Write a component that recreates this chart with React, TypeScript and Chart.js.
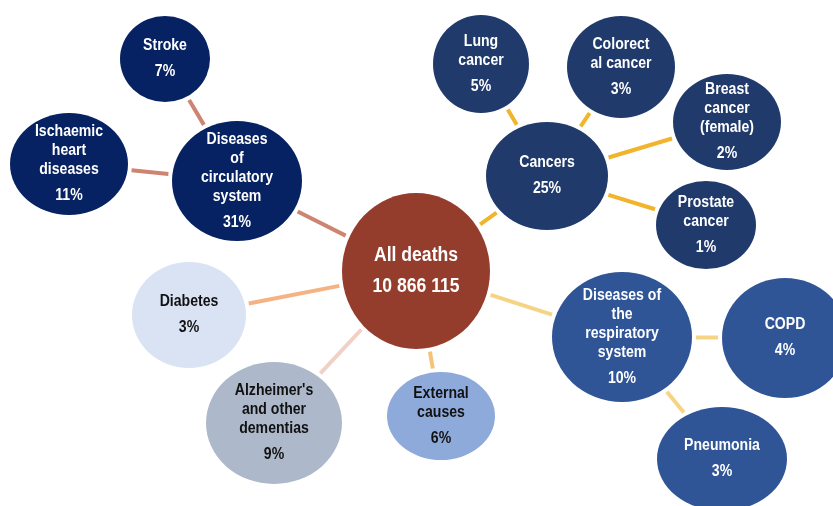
import React, { useEffect, useRef } from "react";
import Chart from "chart.js/auto";

// ---- data ----
const nodeNames = [
  "All deaths",
  "Diseases of circulatory system",
  "Stroke",
  "Ischaemic heart diseases",
  "Cancers",
  "Lung cancer",
  "Colorectal cancer",
  "Breast cancer (female)",
  "Prostate cancer",
  "Diseases of the respiratory system",
  "COPD",
  "Pneumonia",
  "External causes",
  "Alzheimer's and other dementias",
  "Diabetes",
];
const nodeLines: string[][] = [
  ["All deaths"],
  ["Diseases", "of", "circulatory", "system"],
  ["Stroke"],
  ["Ischaemic", "heart", "diseases"],
  ["Cancers"],
  ["Lung", "cancer"],
  ["Colorect", "al cancer"],
  ["Breast", "cancer", "(female)"],
  ["Prostate", "cancer"],
  ["Diseases of", "the", "respiratory", "system"],
  ["COPD"],
  ["Pneumonia"],
  ["External", "causes"],
  ["Alzheimer's", "and other", "dementias"],
  ["Diabetes"],
];
const totalDeaths = 10866115;
const sharePct = [100, 31, 7, 11, 25, 5, 3, 2, 1, 10, 4, 3, 6, 9, 3];

// layout of the diagram (scale units)
const nodeX = [416, 237, 165, 69, 547, 481, 621, 727, 706, 622, 785, 722, 441, 274, 189];
const nodeY = [271, 181, 59, 164, 176, 64, 67, 122, 225, 337, 338, 459, 416, 423, 315];
const nodeRx = [74, 65, 45, 59, 61, 48, 54, 54, 50, 70, 63, 65, 54, 68, 57];
const nodeRy = [78, 60, 43, 51, 54, 49, 51, 48, 44, 65, 60, 52, 44, 61, 53];

// connections: [parent, child]
const edges: [number, number][] = [
  [0, 1], [1, 2], [1, 3],
  [0, 4], [4, 5], [4, 6], [4, 7], [4, 8],
  [0, 9], [9, 10], [9, 11],
  [0, 12], [0, 13], [0, 14],
];

// ---- styles ----
const nodeColors = [
  "#943d2c",
  "#062262", "#062262", "#062262",
  "#1f3a6b", "#1f3a6b", "#1f3a6b", "#1f3a6b", "#1f3a6b",
  "#2f5597", "#2f5597", "#2f5597",
  "#8eaadb", "#adb9ca", "#dae3f3",
];
const textColors = [
  "#ffffff", "#ffffff", "#ffffff", "#ffffff", "#ffffff", "#ffffff", "#ffffff", "#ffffff",
  "#ffffff", "#ffffff", "#ffffff", "#ffffff", "#111111", "#111111", "#111111",
];
const edgeColors = [
  "#cd8571", "#cd8571", "#cd8571",
  "#f1b42a", "#f1b42a", "#f1b42a", "#f1b42a", "#f1b42a",
  "#f6d486", "#f6d486", "#f6d486",
  "#f2c676", "#f1d0c6", "#f5b282",
];

const fmtTotal = (n: number) => String(n).replace(/\B(?=(\d{3})+(?!\d))/g, " ");
const valueLabels = sharePct.map((p, i) => (i === 0 ? fmtTotal(totalDeaths) : `${p}%`));

function ellipseImage(rx: number, ry: number, color: string) {
  const c = document.createElement("canvas");
  c.width = Math.ceil(rx * 2 + 2);
  c.height = Math.ceil(ry * 2 + 2);
  const g = c.getContext("2d")!;
  g.fillStyle = color;
  g.beginPath();
  g.ellipse(c.width / 2, c.height / 2, rx, ry, 0, 0, Math.PI * 2);
  g.fill();
  return c;
}

function edgeDist(i: number, ux: number, uy: number) {
  return 1 / Math.sqrt((ux / nodeRx[i]) ** 2 + (uy / nodeRy[i]) ** 2);
}

const GAP = 4;
function edgeSegment(a: number, b: number) {
  const dx = nodeX[b] - nodeX[a];
  const dy = nodeY[b] - nodeY[a];
  const d = Math.hypot(dx, dy);
  const ux = dx / d;
  const uy = dy / d;
  const ta = edgeDist(a, ux, uy) + GAP;
  const tb = edgeDist(b, ux, uy) + GAP;
  return [
    { x: nodeX[a] + ux * ta, y: nodeY[a] + uy * ta },
    { x: nodeX[b] - ux * tb, y: nodeY[b] - uy * tb },
  ];
}

const labelPlugin = {
  id: "bubbleLabels",
  afterDatasetsDraw(chart: any) {
    const meta = chart.getDatasetMeta(0);
    const ctx = chart.ctx as CanvasRenderingContext2D;
    meta.data.forEach((el: any, i: number) => {
      const lines = nodeLines[i];
      const isMain = i === 0;
      const size = isMain ? 20 : 16;
      const lineH = 19;
      const gap = isMain ? 31 : 26;
      const span = (lines.length - 1) * lineH + gap;
      const y0 = el.y - span / 2;
      ctx.save();
      ctx.font = `bold ${size}px "Liberation Sans", Arial, sans-serif`;
      ctx.fillStyle = textColors[i];
      ctx.textAlign = "center";
      ctx.textBaseline = "middle";
      ctx.translate(el.x, 0);
      ctx.scale(0.88, 1);
      lines.forEach((ln, k) => ctx.fillText(ln, 0, y0 + k * lineH));
      ctx.fillText(valueLabels[i], 0, y0 + (lines.length - 1) * lineH + gap);
      ctx.restore();
    });
  },
};

export default function App() {
  const ref = useRef<HTMLCanvasElement>(null);
  useEffect(() => {
    const images = nodeX.map((_, i) => ellipseImage(nodeRx[i], nodeRy[i], nodeColors[i]));
    const bubbleDs: any = {
      type: "bubble",
      label: "Causes of death",
      data: nodeX.map((x, i) => ({ x, y: nodeY[i], r: nodeRx[i], name: nodeNames[i] })),
      backgroundColor: nodeColors,
      borderWidth: 0,
      pointStyle: (c: any) => images[c.dataIndex],
      order: 0,
      clip: false,
    };
    const lineDs: any[] = edges.map(([a, b], k) => ({
      type: "line",
      label: `${nodeNames[a]} - ${nodeNames[b]}`,
      data: edgeSegment(a, b),
      borderColor: edgeColors[k],
      borderWidth: 4,
      borderCapStyle: "butt",
      pointRadius: 0,
      fill: false,
      order: 1,
      clip: false,
    }));
    const chart = new Chart(ref.current!, {
      type: "bubble",
      data: { datasets: [bubbleDs, ...lineDs] },
      options: {
        animation: false,
        responsive: false,
        events: [],
        layout: { padding: 0, autoPadding: false },
        plugins: { legend: { display: false }, tooltip: { enabled: false } },
        scales: {
          x: { type: "linear", min: 0, max: 833, display: false },
          y: { type: "linear", min: 0, max: 506, reverse: true, display: false },
        },
      } as any,
      plugins: [labelPlugin],
    });
    return () => chart.destroy();
  }, []);
  return (
    <div style={{ position: "fixed", left: 0, top: 0, width: 833, height: 506, background: "#ffffff" }}>
      <canvas ref={ref} width={833} height={506} />
    </div>
  );
}
